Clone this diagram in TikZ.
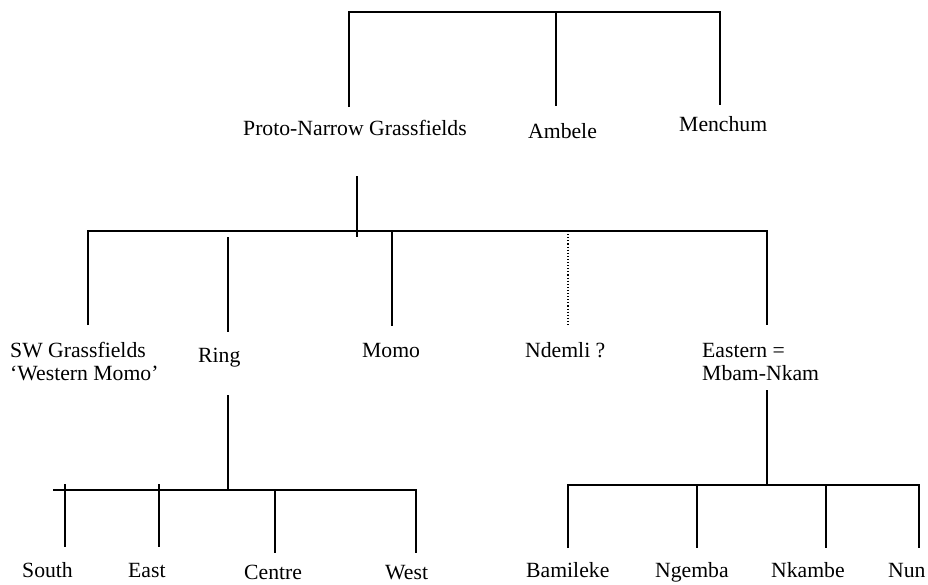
\documentclass[tikz,border=0pt]{standalone}
\usepackage{fontspec}
\setmainfont{Liberation Serif}
\begin{document}
\begin{tikzpicture}[x=1pt,y=-1pt,
  lbl/.style={inner sep=0pt,anchor=base west,font=\fontsize{21.7}{23}\selectfont,align=left},
  branch/.style={line width=1.5pt},
  uncertain/.style={line width=1.1pt,dotted}]
\useasboundingbox (0,0) rectangle (928,584);
% labels
\node[lbl] (png) at (243,135) {Proto-Narrow Grassfields};
\node[lbl] (amb) at (528,138) {Ambele};
\node[lbl] (men) at (679,131) {Menchum};
\node[lbl] (swg) at (10,380) {SW Grassfields\\‘Western Momo’};
\node[lbl] (rng) at (198,362) {Ring};
\node[lbl] (mom) at (362,357) {Momo};
\node[lbl] (ndm) at (525,357) {Ndemli ?};
\node[lbl] (eas) at (702,380) {Eastern =\\Mbam-Nkam};
\node[lbl] (sou) at (22,577) {South};
\node[lbl] (est) at (128,577) {East};
\node[lbl] (cen) at (244,579) {Centre};
\node[lbl] (wst) at (385,579) {West};
\node[lbl] (bam) at (526,577) {Bamileke};
\node[lbl] (nge) at (655,577) {Ngemba};
\node[lbl] (nka) at (771,577) {Nkambe};
\node[lbl] (nun) at (888,577) {Nun};
% top level
\coordinate (t1) at (349,12); \coordinate (t2) at (720,12);
\coordinate (tp) at (349,107); \coordinate (ta) at (556,12); \coordinate (tab) at (556,106);
\coordinate (tm) at (720,105);
\draw[branch] (tp) -- (t1) -- (t2) -- (tm);
\draw[branch] (ta) -- (tab);
% second level
\coordinate (p1) at (357,176); \coordinate (p2) at (357,237);
\draw[branch] (p1) -- (p2);
\coordinate (b1) at (88,231); \coordinate (b2) at (767,231);
\coordinate (sw) at (88,325); \coordinate (rt) at (228,237); \coordinate (rb) at (228,332);
\coordinate (mt) at (392,231); \coordinate (mb) at (392,326);
\coordinate (nt) at (568,231); \coordinate (nb) at (568,325);
\coordinate (eb) at (767,325);
\draw[branch] (sw) -- (b1) -- (b2) -- (eb);
\draw[branch] (rt) -- (rb);
\draw[branch] (mt) -- (mb);
\draw[uncertain] (nt) -- (nb);
% Ring subtree
\coordinate (r1) at (228,395); \coordinate (r2) at (228,490);
\coordinate (l1) at (53,490); \coordinate (l2) at (416,490);
\coordinate (st) at (65,484); \coordinate (sb) at (65,547);
\coordinate (et) at (159,484); \coordinate (eeb) at (159,547);
\coordinate (ct) at (275,490); \coordinate (cb) at (275,553);
\coordinate (wb) at (416,553);
\draw[branch] (r1) -- (r2);
\draw[branch] (l1) -- (l2) -- (wb);
\draw[branch] (st) -- (sb);
\draw[branch] (et) -- (eeb);
\draw[branch] (ct) -- (cb);
% Eastern subtree
\coordinate (e1) at (767,390); \coordinate (e2) at (767,485);
\coordinate (k1) at (568,485); \coordinate (k2) at (919,485);
\coordinate (bb) at (568,548); \coordinate (gt) at (697,485); \coordinate (gb) at (697,548);
\coordinate (kt) at (826,485); \coordinate (kb) at (826,548); \coordinate (ub) at (919,548);
\draw[branch] (e1) -- (e2);
\draw[branch] (bb) -- (k1) -- (k2) -- (ub);
\draw[branch] (gt) -- (gb);
\draw[branch] (kt) -- (kb);
\end{tikzpicture}
\end{document}
